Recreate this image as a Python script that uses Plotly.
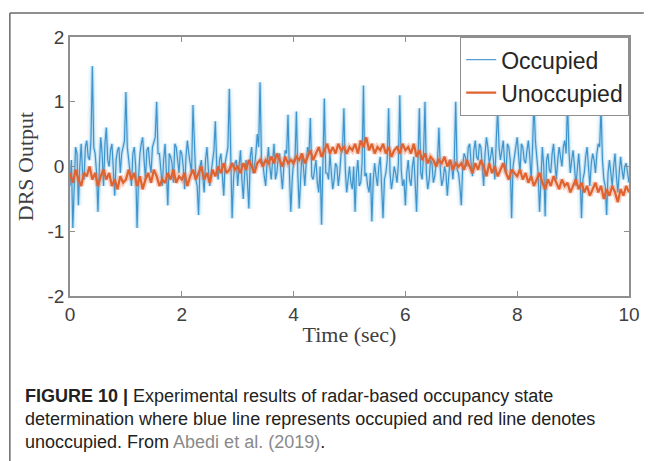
import plotly.graph_objects as go

# ---- data ----
# Occupied signal, sampled every 0.025 s: samples at whole 0.05 s steps ...
occupied_even = [
    -0.3, -0.95, 0.3, -0.6, 0.35, -0.2, 0.4, 0.1, 1.55, 0.2, -0.7, 0.45, -0.3, 0.6, 0.0, 0.35, -0.45, 0.25, -0.1, 0.3,
    1.15, 0.1, -0.3, 0.3, -0.95, 0.2, 0.45, -0.2, 0.3, -0.1, 0.4, 1.0, 0.2, -0.3, 0.35, -0.6, 0.15, -0.25, 0.3, -0.1,
    0.2, -0.35, 0.4, 0.0, 0.95, -0.2, -0.75, 0.1, -0.4, 0.3, -0.3, 0.1, 0.7, -0.2, 0.2, -0.45, 0.15, 1.2, -0.8, 0.05,
    -0.3, 0.25, -0.5, 0.1, -0.65, 0.3, 0.0, 0.5, 1.3, 0.05, -0.3, 0.3, -0.2, 0.35, -0.1, 0.2, -0.35, 0.25, 0.8, -0.7,
    0.1, 0.85, -0.65, 0.2, -0.3, 0.3, 0.75, -0.2, 0.1, -0.4, -0.9, 1.05, -0.1, 0.2, -0.35, 0.05, -0.3, 0.2, 0.9, -0.4,
    0.0, -0.35, -0.7, 0.1, -0.25, 1.25, -0.1, -0.4, -0.85, 0.05, -0.3, 0.15, -0.8, -0.1, 0.9, -0.35, 0.0, -0.25, 1.1, -0.3,
    -0.6, 0.1, -0.3, 0.15, -0.7, 0.9, -0.2, 1.0, -0.35, 0.1, -0.25, 0.05, 0.6, -0.3, 0.0, -0.45, 0.1, -0.2, 1.0, -0.1,
    -0.6, 0.2, 0.0, 0.35, -0.15, 0.4, 0.1, 0.3, -0.3, 0.45, 0.05, 0.3, -0.2, 0.88, 0.1, 0.4, -0.1, 0.3, -0.8, 0.2,
    0.45, -0.1, 0.3, 0.05, 0.4, -0.2, 1.0, 0.15, -0.7, 0.3, -0.77, 0.2, -0.1, 0.35, -0.2, 0.3, 0.0, 0.4, 1.0, -0.1,
    0.25, -0.3, 0.2, -0.8, -0.1, 0.3, -0.3, 0.2, -0.1, 0.35, 0.9, -0.2, -0.75, 0.1, -0.3, 0.2, -0.4, 0.15, -0.2, 0.05,
    -0.25,
]
# ... and the samples in between (t = 0.025, 0.075, ...)
occupied_odd = [
    0.1, -0.2, 0.2, 0.0, -0.1, 0.3, 0.15, 0.4, 0.3, -0.1, 0.0, 0.2, 0.35, 0.1, 0.25, -0.05, 0.1, 0.3, 0.2, 0.4,
    0.3, -0.1, 0.2, 0.0, -0.2, 0.35, 0.1, 0.25, 0.05, 0.3, 0.45, 0.2, 0.0, 0.1, -0.1, 0.2, 0.05, 0.35, 0.1, 0.25,
    0.0, 0.15, 0.2, -0.1, 0.3, -0.3, 0.0, -0.15, 0.1, -0.05, -0.1, 0.25, 0.0, 0.1, -0.2, 0.05, 0.3, -0.1, -0.2, 0.1,
    0.0, -0.2, -0.1, -0.25, 0.15, -0.1, 0.2, 0.3, 0.1, -0.15, 0.05, 0.0, 0.1, -0.2, 0.15, -0.1, 0.0, 0.2, -0.1, -0.2,
    0.1, -0.1, -0.2, 0.0, 0.05, 0.2, -0.15, -0.05, -0.25, 0.0, 0.05, -0.1, -0.2, -0.1, -0.2, 0.0, -0.1, 0.25, -0.05, -0.2,
    -0.25, 0.0, -0.1, -0.3, 0.05, -0.15, -0.3, -0.1, -0.2, -0.15, 0.0, -0.3, -0.2, 0.1, -0.1, -0.2, -0.1, 0.05, -0.05, -0.2,
    -0.1, -0.2, 0.0, -0.25, 0.1, -0.1, 0.2, -0.1, -0.2, 0.05, -0.15, 0.1, -0.05, -0.2, -0.1, -0.15, 0.05, 0.1, -0.05, -0.3,
    0.0, 0.15, 0.3, 0.05, 0.25, 0.15, 0.35, 0.0, 0.2, 0.3, 0.15, 0.1, 0.4, 0.3, 0.25, 0.05, 0.35, 0.1, 0.0, 0.3,
    0.2, 0.35, 0.1, 0.25, 0.15, 0.3, 0.4, -0.1, -0.05, 0.0, 0.1, -0.05, 0.2, 0.05, 0.1, 0.15, 0.3, 0.2, 0.25, 0.1,
    0.0, -0.05, -0.1, -0.2, 0.15, 0.0, 0.05, 0.1, 0.2, 0.3, 0.1, -0.3, -0.1, -0.1, 0.0, -0.15, -0.1, -0.05, 0.0, -0.1,
]
# Unoccupied signal, sampled every 0.05 s
unoccupied = [
    -0.1, -0.25, -0.05, -0.2, -0.3, -0.1, -0.15, 0.0, -0.2, -0.1, -0.3, -0.15, -0.05, -0.2, -0.1, -0.3, -0.2, -0.35, -0.15, -0.25,
    -0.2, -0.05, -0.2, -0.1, -0.3, -0.15, -0.35, -0.2, -0.1, -0.25, -0.05, -0.15, -0.3, -0.2, -0.25, -0.1, -0.2, -0.05, -0.25, -0.15,
    -0.2, -0.1, -0.3, -0.15, -0.05, -0.2, -0.1, 0.0, -0.2, -0.1, -0.25, -0.05, -0.15, 0.0, -0.1, 0.05, -0.1, -0.05, 0.05, -0.05,
    0.0, -0.1, 0.05, -0.05, 0.1, 0.0, -0.1, 0.05, 0.1, 0.0, 0.1, 0.05, 0.15, 0.05, 0.2, 0.1, 0.0, 0.15, 0.05, 0.1,
    0.05, 0.15, 0.1, 0.2, 0.05, 0.15, 0.25, 0.1, 0.2, 0.3, 0.15, 0.25, 0.35, 0.2, 0.3, 0.2, 0.35, 0.25, 0.3, 0.2,
    0.3, 0.25, 0.35, 0.2, 0.4, 0.3, 0.45, 0.25, 0.35, 0.2, 0.3, 0.25, 0.35, 0.2, 0.3, 0.15, 0.25, 0.3, 0.2, 0.35,
    0.25, 0.3, 0.2, 0.35, 0.15, 0.25, 0.1, 0.2, 0.05, 0.15, 0.1, 0.0, 0.1, 0.05, 0.15, 0.0, 0.1, -0.05, 0.05, 0.0,
    0.05, -0.05, 0.1, 0.0, -0.1, 0.05, -0.05, 0.1, 0.0, -0.15, 0.05, -0.1, 0.0, -0.15, -0.05, 0.05, -0.1, -0.2, -0.05, -0.1,
    -0.15, -0.05, -0.2, -0.1, -0.25, -0.15, -0.3, -0.2, -0.1, -0.25, -0.35, -0.2, -0.3, -0.15, -0.25, -0.35, -0.2, -0.3, -0.25, -0.4,
    -0.3, -0.2, -0.35, -0.25, -0.4, -0.3, -0.45, -0.35, -0.25, -0.4, -0.3, -0.5, -0.35, -0.45, -0.3, -0.4, -0.55, -0.35, -0.45, -0.3,
    -0.4,
]

x_ticks = [0, 2, 4, 6, 8, 10]
y_ticks = [-2, -1, 0, 1, 2]

caption_lines = [
    "<b>FIGURE 10 |</b> Experimental results of radar-based occupancy state",
    "determination where blue line represents occupied and red line denotes",
    "unoccupied. From <span style='color:#8a8a8a'>Abedi et al. (2019)</span>.",
]

# assemble the series
occupied = []
for i, v in enumerate(occupied_even):
    occupied.append(v)
    if i < len(occupied_odd):
        occupied.append(occupied_odd[i])
t_occ = [round(i * 0.025, 3) for i in range(len(occupied))]
t_unocc = [round(i * 0.05, 3) for i in range(len(unoccupied))]

# ---- figure ----
W, H = 652, 461
L, R, T, B = 70, 637, 37, 296
pw, ph = R - L, B - T

def px_x(px):
    return (px - L) / pw

def px_y(py):
    return (B - py) / ph

fig = go.Figure()

# Occupied: blurred look via layered translucent strokes
fig.add_trace(go.Scatter(x=t_occ, y=occupied, mode="lines", showlegend=False,
                         line=dict(color="rgba(120,195,235,0.10)", width=8), hoverinfo="skip"))
fig.add_trace(go.Scatter(x=t_occ, y=occupied, mode="lines", showlegend=False,
                         line=dict(color="rgba(30,140,210,0.22)", width=3.5), hoverinfo="skip"))
fig.add_trace(go.Scatter(x=t_occ, y=occupied, mode="lines", name="Occupied",
                         line=dict(color="rgba(0,112,186,0.68)", width=1.2)))

# Unoccupied
fig.add_trace(go.Scatter(x=t_unocc, y=unoccupied, mode="lines", showlegend=False,
                         line=dict(color="rgba(235,120,80,0.35)", width=5.5), hoverinfo="skip"))
fig.add_trace(go.Scatter(x=t_unocc, y=unoccupied, mode="lines", name="Unoccupied",
                         line=dict(color="#e0622e", width=2.2)))

axis_common = dict(
    showline=True, linecolor="#8f8f8f", linewidth=1.5, mirror="ticks",
    ticks="inside", ticklen=5, tickcolor="#8f8f8f", tickwidth=1,
    showgrid=False, zeroline=False,
    tickfont=dict(family="Liberation Sans, Arial, sans-serif", size=19, color="#404040"),
)

fig.update_xaxes(range=[0, 10], tickvals=x_ticks, ticktext=[str(v) for v in x_ticks],
                 title=dict(text="Time (sec)", standoff=3,
                            font=dict(family="Liberation Serif, Times New Roman, serif", size=22, color="#404040")),
                 **axis_common)
fig.update_yaxes(range=[-2, 2], tickvals=y_ticks, ticktext=[str(v) for v in y_ticks],
                 title=dict(text="DRS Output", standoff=8,
                            font=dict(family="Liberation Serif, Times New Roman, serif", size=22, color="#404040")),
                 **axis_common)

# page border (top and left)
border = "#6a6a6a"
fig.add_shape(type="line", xref="paper", yref="paper", x0=px_x(9), x1=px_x(W), y0=px_y(13), y1=px_y(13),
              line=dict(color=border, width=1.5))
fig.add_shape(type="line", xref="paper", yref="paper", x0=px_x(9), x1=px_x(9), y0=px_y(13), y1=px_y(H),
              line=dict(color=border, width=1.5))

# caption
cap_y = [396, 419, 442]
for txt, yy in zip(caption_lines, cap_y):
    fig.add_annotation(text=txt, xref="paper", yref="paper", x=px_x(22), y=px_y(yy),
                       xanchor="left", yanchor="middle", showarrow=False,
                       font=dict(family="Liberation Sans, Arial, sans-serif", size=18, color="#222222"))

fig.update_layout(
    width=W, height=H,
    margin=dict(l=L, r=W - R, t=T, b=H - B, pad=0),
    paper_bgcolor="white", plot_bgcolor="white",
    legend=dict(x=1, y=1, xanchor="right", yanchor="top", bgcolor="white",
                bordercolor="#8f8f8f", borderwidth=1.2, itemwidth=30, tracegroupgap=0,
                font=dict(family="Liberation Sans, Arial, sans-serif", size=23, color="#262626")),
)

fig.write_html("out.html", config={"displayModeBar": False},
               post_script="document.body.style.margin='0px';")
